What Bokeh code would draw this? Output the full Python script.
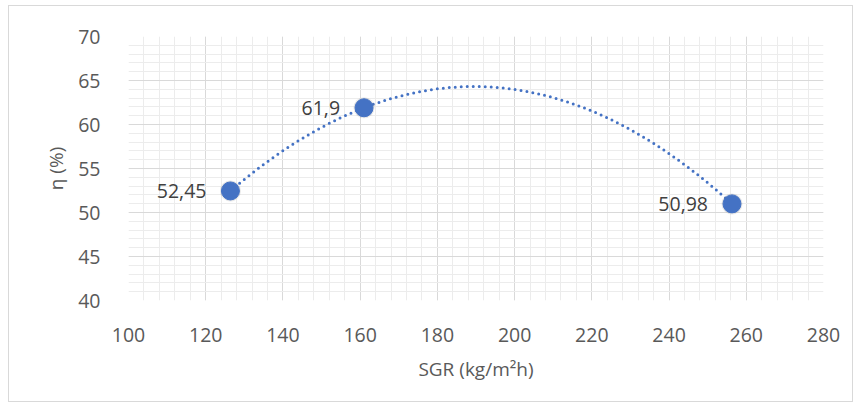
import numpy as np
from bokeh.plotting import figure
from bokeh.models import Range1d, SingleIntervalTicker, ColumnDataSource, LabelSet
from bokeh.core.properties import value
from bokeh.embed import file_html
from bokeh.resources import INLINE

# data
sgr = [126.4, 161.0, 256.3]
eta = [52.45, 61.9, 50.98]
point_labels = ["52,45", "61,9", "50,98"]
x_range = (100, 280)
y_range = (40, 70)
x_label = "SGR (kg/m²h)"
y_label = "η (%)"

BLUE = "#4472C4"
FONT = "Open Sans"

p = figure(width=845, height=397, output_backend="svg", toolbar_location=None,
           x_range=Range1d(*x_range), y_range=Range1d(*y_range),
           min_border_left=119, min_border_right=31, min_border_top=30, min_border_bottom=103,
           margin=(5, 0, 0, 8))
p.styles = {"border": "1px solid #d9d9d9"}
p.outline_line_color = None
p.background_fill_color = "white"
p.border_fill_color = "white"

p.xaxis.ticker = SingleIntervalTicker(interval=20, num_minor_ticks=5)
p.yaxis.ticker = SingleIntervalTicker(interval=5, num_minor_ticks=5)
for ax in (p.xaxis, p.yaxis):
    ax.axis_line_color = None
    ax.major_tick_line_color = None
    ax.minor_tick_line_color = None
    ax.major_label_text_font = FONT
    ax.major_label_text_font_size = "19.5px"
    ax.major_label_text_color = "#595959"
    ax.axis_label_text_font = FONT
    ax.axis_label_text_font_size = "19px"
    ax.axis_label_text_color = "#595959"
    ax.axis_label_text_font_style = "normal"
p.xaxis.axis_label = x_label
p.yaxis.axis_label = y_label
p.xaxis.major_label_standoff = 21
p.xaxis.axis_label_standoff = 11
p.yaxis.major_label_standoff = 22
p.yaxis.axis_label_standoff = 6

for g in (p.xgrid, p.ygrid):
    g.grid_line_color = "#d9d9d9"
    g.grid_line_width = 1
    g.minor_grid_line_color = "#ececec"
    g.minor_grid_line_width = 1

# polynomial (order 2) trendline fitted to the data
coef = np.polyfit(sgr, eta, 2)
xs = np.linspace(min(sgr), max(sgr), 300)
p.line(xs, np.polyval(coef, xs), line_color=BLUE, line_width=3, line_dash="0 6",
       line_cap="round")

src = ColumnDataSource(dict(x=sgr, y=eta, t=point_labels))
p.scatter("x", "y", source=src, size=21, fill_color="#7f7f7f", fill_alpha=0.18, line_color=None)
p.scatter("x", "y", source=src, size=18, fill_color=BLUE, line_color=BLUE, line_width=1)

labels = LabelSet(x="x", y="y", text="t", source=src, x_offset=-24, y_offset=0,
                  text_align="right", text_baseline="middle", text_font=value(FONT),
                  text_font_size=value("19.5px"), text_color="#404040")
p.add_layout(labels)

open("out.html", "w").write(file_html(p, INLINE))
